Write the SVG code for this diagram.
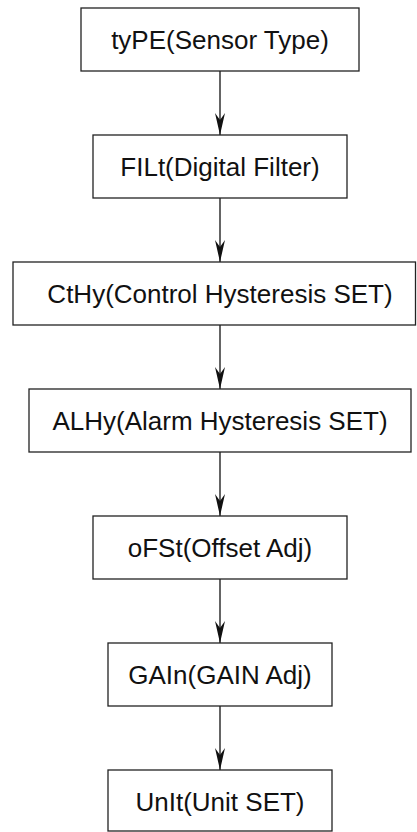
<svg xmlns="http://www.w3.org/2000/svg" width="417" height="832" viewBox="0 0 417 832">
  <defs>
    <style>
      .box rect { fill: #ffffff; stroke: #222222; stroke-width: 1.3; }
      .box text { font-family: "Liberation Sans", Arial, sans-serif; font-size: 26px; fill: #111111; text-anchor: middle; }
      .conn line { stroke: #111111; stroke-width: 1.3; marker-end: url(#arr); }
    </style>
    <marker id="arr" markerWidth="24" markerHeight="12" viewBox="0 0 24 12" refX="23" refY="6" orient="auto" markerUnits="userSpaceOnUse">
      <path d="M1,1 L23,6 L1,11 L8,6 Z" fill="#111111"/>
    </marker>
  </defs>
  <rect width="417" height="832" fill="#ffffff"/>
  <g id="connectors" class="conn">
    <line x1="220" y1="71" x2="220" y2="135"/>
    <line x1="220" y1="198" x2="220" y2="262"/>
    <line x1="220" y1="325" x2="220" y2="389"/>
    <line x1="220" y1="452" x2="220" y2="516"/>
    <line x1="220" y1="579" x2="220" y2="643"/>
    <line x1="220" y1="706" x2="220" y2="770"/>
  </g>
  <g id="n-type" class="box">
    <rect x="81" y="8" width="278" height="63"/>
    <text x="220" y="49">tyPE(Sensor Type)</text>
  </g>
  <g id="n-filt" class="box">
    <rect x="93" y="135" width="254" height="63"/>
    <text x="220" y="176">FILt(Digital Filter)</text>
  </g>
  <g id="n-cthy" class="box">
    <rect x="13" y="262" width="402.5" height="63"/>
    <text x="220" y="303">CtHy(Control Hysteresis SET)</text>
  </g>
  <g id="n-alhy" class="box">
    <rect x="29" y="389" width="382" height="63"/>
    <text x="220" y="430">ALHy(Alarm Hysteresis SET)</text>
  </g>
  <g id="n-ofst" class="box">
    <rect x="93" y="516" width="254" height="63"/>
    <text x="220" y="557">oFSt(Offset Adj)</text>
  </g>
  <g id="n-gain" class="box">
    <rect x="108" y="643" width="224" height="63"/>
    <text x="220" y="684">GAIn(GAIN Adj)</text>
  </g>
  <g id="n-unit" class="box">
    <rect x="108" y="770" width="224" height="61"/>
    <text x="220" y="811">UnIt(Unit SET)</text>
  </g>
</svg>
